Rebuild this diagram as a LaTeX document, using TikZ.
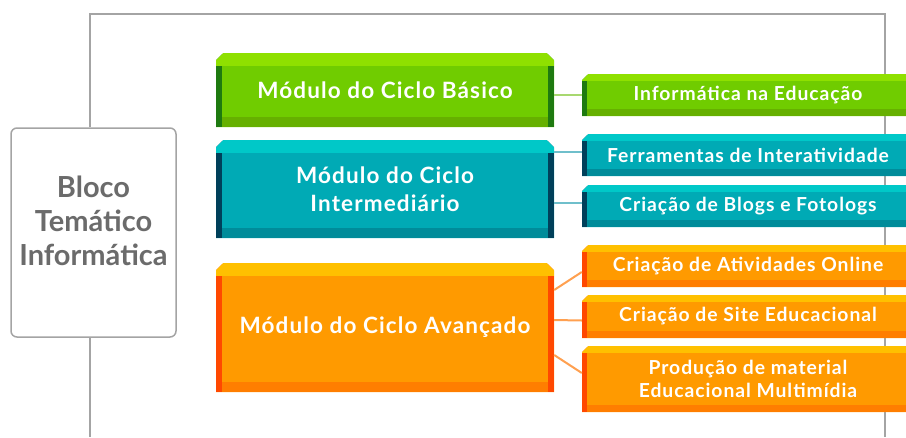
\documentclass[tikz,border=0pt]{standalone}
\usepackage{fontspec}
\setmainfont{Lato}
\usetikzlibrary{shapes.misc}
\definecolor{gM}{HTML}{70CC00}\definecolor{gT}{HTML}{8FE000}\definecolor{gB}{HTML}{66B000}\definecolor{gS}{HTML}{1E7A10}
\definecolor{tM}{HTML}{00AAB5}\definecolor{tT}{HTML}{00C8C8}\definecolor{tB}{HTML}{008C9A}\definecolor{tS}{HTML}{00405A}
\definecolor{oM}{HTML}{FF9A00}\definecolor{oT}{HTML}{FFC000}\definecolor{oB}{HTML}{FF7E00}\definecolor{oS}{HTML}{FF4800}
\definecolor{frame}{HTML}{A4A4A4}
\definecolor{gL}{HTML}{A8D870}\definecolor{tL}{HTML}{6FBFCB}\definecolor{oL}{HTML}{FFA050}
\tikzset{
  mainbox/.style n args={4}{chamfered rectangle, chamfered rectangle corners={north west,north east},
    chamfered rectangle xsep=4pt, inner sep=0pt, minimum width=338pt, fill=#1,
    text=white, font=\fontsize{22.5}{28}\selectfont\bfseries\addfontfeature{LetterSpace=5}, align=center,
    path picture={
      \fill[#4] (path picture bounding box.north west) rectangle ([xshift=6pt]path picture bounding box.south west);
      \fill[#4] (path picture bounding box.north east) rectangle ([xshift=-6pt]path picture bounding box.south east);
      \fill[#2] (path picture bounding box.north west) rectangle ([yshift=-13pt]path picture bounding box.north east);
      \fill[#3] ([xshift=6pt]path picture bounding box.south west) rectangle ([xshift=-6pt,yshift=10pt]path picture bounding box.south east);
    }},
  subbox/.style n args={4}{chamfered rectangle, chamfered rectangle corners={north west},
    chamfered rectangle xsep=3pt, inner sep=0pt, minimum width=332pt, fill=#1,
    text=white, font=\fontsize{19.3}{23}\selectfont\bfseries\addfontfeature{LetterSpace=5}, align=center,
    path picture={
      \fill[#4] (path picture bounding box.north west) rectangle ([xshift=5pt]path picture bounding box.south west);
      \fill[#2] (path picture bounding box.north west) rectangle ([yshift=-7pt]path picture bounding box.north east);
      \fill[#3] ([xshift=5pt]path picture bounding box.south west) rectangle ([yshift=7pt]path picture bounding box.south east);
    }},
  blocobox/.style={draw=frame, line width=1.5pt, rounded corners=6pt, fill=white, minimum width=165pt, minimum height=209pt},
  blocotext/.style={text=black!58, font=\fontsize{29}{34}\selectfont\bfseries, align=center},
  frameline/.style={draw=frame, line width=1.5pt},
  conn/.style={line width=2pt},
}
\begin{document}
\begin{tikzpicture}[x=1pt,y=-1pt]
\useasboundingbox (0,0) rectangle (906,437);
\begin{scope}
\clip (0,0) rectangle (906,437);
\coordinate (ftop) at (90,14);
\coordinate (ftr) at (885,14);
\coordinate (fbr) at (885,437);
\coordinate (fbl) at (90,437);
\node[blocobox] (bloco) at (93.5,232.5) {};
\draw[frameline] (bloco.north -| ftop) -- (ftop) -- (ftr) -- (fbr);
\draw[frameline] (bloco.south -| ftop) -- (fbl);
\node[blocotext] (blocot) at (93.5,221) {Bloco\\Temático\\Informática};

\node[mainbox={gM}{gT}{gB}{gS}, minimum height=74pt] (mb) at (385,90) {Módulo do Ciclo Básico};
\node[mainbox={tM}{tT}{tB}{tS}, minimum height=98pt] (mt) at (385,189) {Módulo do Ciclo\\Intermediário};
\node[mainbox={oM}{oT}{oB}{oS}, minimum height=129pt] (mo) at (385,327.5) {Módulo do Ciclo Avançado};

\node[subbox={gM}{gT}{gB}{gS}, minimum height=42pt] (s1) at (748,95) {Informática na Educação};
\node[subbox={tM}{tT}{tB}{tS}, minimum height=42pt] (s2) at (748,155) {Ferramentas de Interatividade};
\node[subbox={tM}{tT}{tB}{tS}, minimum height=42pt] (s3) at (748,206) {Criação de Blogs e Fotologs};
\node[subbox={oM}{oT}{oB}{oS}, minimum height=42pt] (s4) at (748,266) {Criação de Atividades Online};
\node[subbox={oM}{oT}{oB}{oS}, minimum height=43pt] (s5) at (748,316.5) {Criação de Site Educacional};
\node[subbox={oM}{oT}{oB}{oS}, minimum height=66pt] (s6) at (748,379) {Produção de material\\Educacional Multimídia};

\draw[conn, gL] (s1.west -| mb.east) -- (s1.west);
\draw[conn, tL] ([yshift=3pt]s2.west -| mt.east) -- ([yshift=3pt]s2.west);
\draw[conn, tL] ([yshift=3pt]s3.west -| mt.east) -- ([yshift=3pt]s3.west);
\draw[conn, oL] ([yshift=37.5pt]mo.east) -- ([yshift=-6pt]s4.west);
\draw[conn, oL] ([yshift=7.5pt]mo.east) -- ([yshift=-4pt]s5.west);
\draw[conn, oL] ([yshift=-27.5pt]mo.east) -- ([yshift=6pt]s6.west);
\end{scope}
\end{tikzpicture}
\end{document}
